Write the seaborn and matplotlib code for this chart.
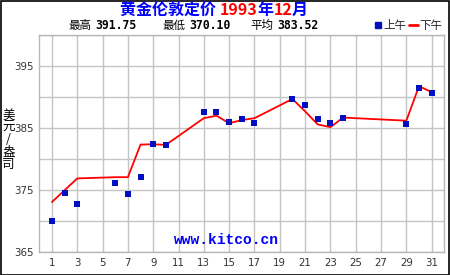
import matplotlib
matplotlib.use("Agg")
import matplotlib.pyplot as plt
import seaborn as sns
import pandas as pd
from matplotlib.patches import Rectangle
from matplotlib.lines import Line2D

# ---- data ----
am_days = [1, 2, 3, 6, 7, 8, 9, 10, 13, 14, 15, 16, 17, 20, 21, 22, 23, 24, 29, 30, 31]
am_price = [370.10, 374.50, 372.70, 376.10, 374.35, 377.10, 382.40, 382.25, 387.60, 387.60,
            385.95, 386.45, 385.80, 389.70, 388.70, 386.45, 385.80, 386.60, 385.65, 391.50, 390.70]
pm_days = [1, 2, 3, 6, 7, 8, 9, 10, 13, 14, 15, 16, 17, 20, 21, 22, 23, 24, 29, 30, 31]
pm_price = [373.10, 375.00, 376.90, 377.10, 377.10, 382.35, 382.40, 382.30, 386.60, 387.00,
            385.80, 386.30, 386.60, 389.70, 387.70, 385.60, 385.15, 386.70, 386.20, 391.75, 390.80]
x_ticks = list(range(1, 32, 2))
y_ticks = list(range(365, 401, 5))
y_labels = ["365", "", "375", "", "385", "", "395", ""]
title_parts = [("黄金伦敦定价 ", "#0000ff"), ("1993", "#ff0000"), ("年", "#0000ff"),
               ("12", "#ff0000"), ("月", "#0000ff")]
stats = [("最高", "391.75"), ("最低", "370.10"), ("平均", "383.52")]
legend_labels = ["上午", "下午"]
ylabel = "美元/盎司"

sns.set_theme(style="white")
plt.rcParams['font.family'] = ['Noto Sans CJK SC', 'DejaVu Sans']

W, H = 450, 275
fig = plt.figure(figsize=(W / 100, H / 100), dpi=100)
fig.patch.set_facecolor("white")
ax = fig.add_axes([39.3 / W, 1 - 252.3 / H, (444.3 - 39.3) / W, (252.3 - 35) / H])

am_df = pd.DataFrame({"day": am_days, "price": am_price})
pm_df = pd.DataFrame({"day": pm_days, "price": pm_price})

sns.lineplot(data=pm_df, x="day", y="price", ax=ax, color="#ff0000", linewidth=1.3, zorder=3)
sns.scatterplot(data=am_df, x="day", y="price", ax=ax, color="#0010c0", marker="s", s=20,
                linewidth=0, zorder=4)

ax.set_xlim(0, 32)
ax.set_ylim(365, 400)
ax.set_xticks(x_ticks)
ax.set_xticklabels([str(t) for t in x_ticks])
ax.set_yticks(y_ticks)
ax.set_yticklabels(y_labels)
ax.grid(True, color="#c4c4c4", linewidth=1.0)
ax.set_axisbelow(True)
for s in ax.spines.values():
    s.set_color("#b8b8b8")
    s.set_linewidth(1.0)
ax.tick_params(length=0, labelsize=7.4, colors="#333333", pad=4)
for lab in ax.get_xticklabels() + ax.get_yticklabels():
    lab.set_family(["DejaVu Sans"])
ax.set_xlabel("")
ax.set_ylabel("")

# watermark
ax.text(0.461, 0.025, "www.kitco.cn", transform=ax.transAxes, ha="center", va="bottom",
        fontsize=10.5, fontweight="bold", color="#0000ff", family=["Liberation Mono"])

# y label stacked
fig.text(8.5 / W, 1 - 140 / H, "\n".join(list(ylabel)), ha="center", va="center",
         fontsize=9, linespacing=0.95, color="black")

# title composed of coloured pieces
fig.canvas.draw()
renderer = fig.canvas.get_renderer()
x = 120 / W
for txt, col in title_parts:
    t = fig.text(x, 1 - 10 / H, txt, ha="left", va="center", fontsize=11.5,
                 fontweight="bold", color=col)
    bb = t.get_window_extent(renderer)
    x += bb.width / W

# stats line
for (lab, val), xs in zip(stats, [68, 162, 250]):
    t = fig.text(xs / W, 1 - 25.5 / H, lab, ha="left", va="center", fontsize=8.3, color="black")
    bb = t.get_window_extent(renderer)
    fig.text((xs + bb.width + 4) / W, 1 - 25.5 / H, val, ha="left", va="center",
             fontsize=8.3, fontweight="bold", color="black", family=["DejaVu Sans Mono"])

# legend
handles = [Line2D([], [], color="#0010c0", marker="s", linestyle="none", markersize=4),
           Line2D([], [], color="#ff0000", linewidth=2)]
fig.legend(handles, legend_labels, loc="center right", bbox_to_anchor=(442 / W, 1 - 25.5 / H),
           ncol=2, frameon=False, fontsize=8.3, handlelength=0.8, handletextpad=0.1,
           columnspacing=0.2, borderpad=0, borderaxespad=0)

# figure border
fig.patches.append(Rectangle((0.5 / W, 0.5 / H), (W - 2) / W, (H - 1.5) / H,
                             transform=fig.transFigure, fill=False, edgecolor="black",
                             linewidth=1.2))

fig.savefig("out.png", dpi=100, facecolor="white")
